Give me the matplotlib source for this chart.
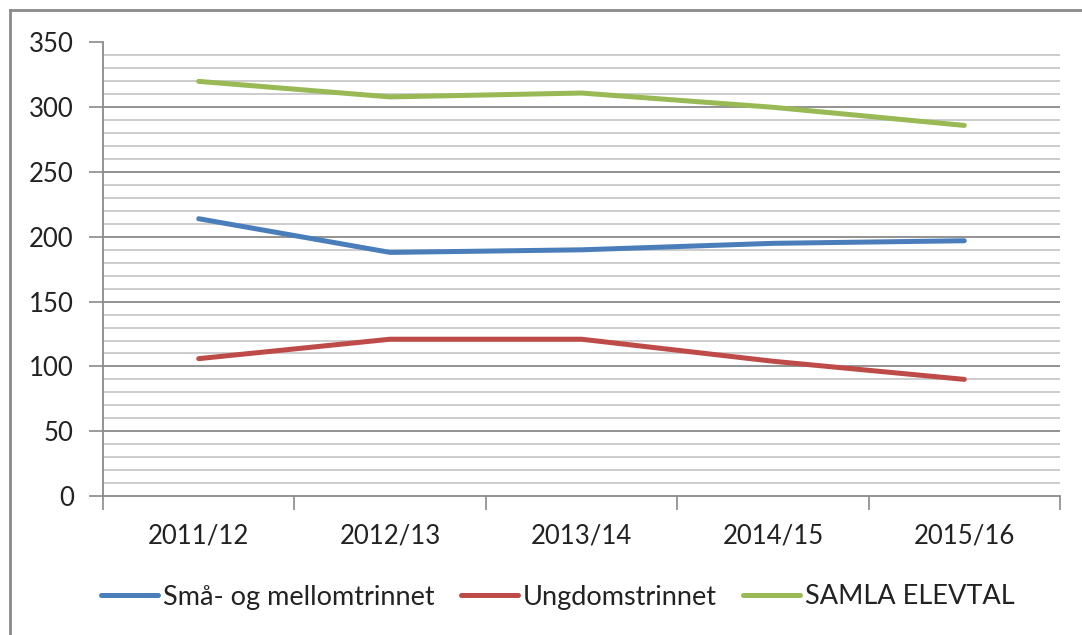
import matplotlib.pyplot as plt
from matplotlib.lines import Line2D

# data
years = ['2011/12', '2012/13', '2013/14', '2014/15', '2015/16']
smaa_mellom = [214, 188, 190, 195, 197]
ungdom = [106, 121, 121, 104, 90]
samla = [320, 308, 311, 300, 286]
series_names = ['Små- og mellomtrinnet', 'Ungdomstrinnet', 'SAMLA ELEVTAL']

colors = ['#4a7ebb', '#be4b48', '#98b954']

plt.rcParams['font.family'] = ['Lato', 'DejaVu Sans']

fig = plt.figure(figsize=(10.82, 6.35), dpi=100)
ax = fig.add_axes([103 / 1082, 1 - 496 / 635, (1060 - 103) / 1082, (496 - 42.5) / 635])

x = range(len(years))
for vals, name, c in zip([smaa_mellom, ungdom, samla], series_names, colors):
    ax.plot(x, vals, color=c, lw=3.6, solid_capstyle='round', label=name, zorder=3)

ax.set_xlim(-0.5, len(years) - 0.5)
ax.set_ylim(0, 350)

# gridlines: major every 50, minor every 10
for v in range(10, 351, 10):
    if v % 50 == 0:
        ax.axhline(v, color='#8a8a8a', lw=1.3, zorder=1)
    else:
        ax.axhline(v, color='#c8c8c8', lw=1.3, zorder=1)

ax.set_yticks(range(0, 351, 50))
ax.set_yticklabels([str(v) for v in range(0, 351, 50)])
ax.set_xticks([i - 0.5 for i in range(len(years) + 1)])
ax.set_xticklabels([])
ax.set_xticks(list(x), minor=True)
ax.set_xticklabels(years, minor=True)

ax.tick_params(axis='y', length=10, width=1.2, color='#8a8a8a', labelsize=18.5,
               labelcolor='#222222', pad=11)
ax.tick_params(axis='x', which='major', length=10, width=1.2, color='#8a8a8a')
ax.tick_params(axis='x', which='minor', length=0, labelsize=18.5,
               labelcolor='#222222', pad=20)

for s in ['top', 'right']:
    ax.spines[s].set_visible(False)
for s in ['left', 'bottom']:
    ax.spines[s].set_color('#8a8a8a')
    ax.spines[s].set_linewidth(1.3)

handles = [Line2D([], [], color=c, lw=3.6, solid_capstyle='round') for c in colors]
fig.legend(handles, series_names, loc='center', ncol=3, frameon=False,
           bbox_to_anchor=(558 / 1082, 1 - 597 / 635), fontsize=19.5,
           handlelength=2.1, handletextpad=0.2, columnspacing=0.95,
           labelcolor='#222222')

# outer chart border (top and left visible in reference)
fig.add_artist(Line2D([10 / 1082, 1], [1 - 10 / 635, 1 - 10 / 635], color='#8a8a8a', lw=2,
                      transform=fig.transFigure))
fig.add_artist(Line2D([10 / 1082, 10 / 1082], [0, 1 - 10 / 635], color='#8a8a8a', lw=2,
                      transform=fig.transFigure))

fig.savefig('out.png', dpi=100)
